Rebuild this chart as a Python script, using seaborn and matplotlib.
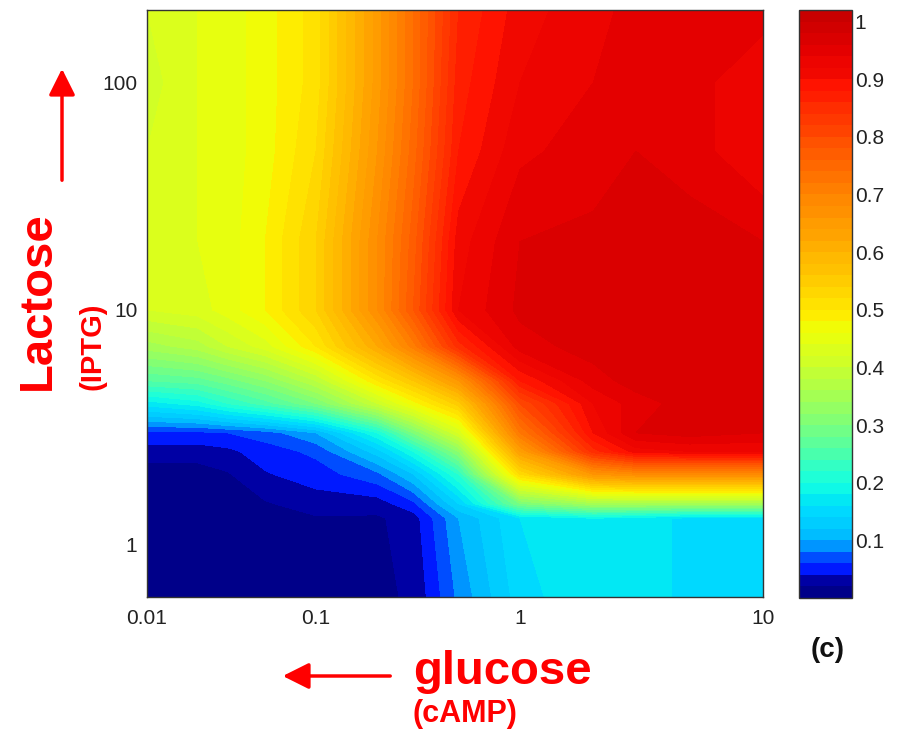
import numpy as np
import matplotlib
import matplotlib.pyplot as plt
import seaborn as sns
from matplotlib.patches import FancyArrowPatch

glucose = [0.01, 0.02, 0.03, 0.05, 0.1, 0.2, 0.3, 0.5, 1, 2, 3, 5, 10]
iptg = [0.6, 1.3, 1.5, 2, 2.5, 3, 4, 5, 7, 10, 20, 50, 100, 210]

# una fila por concentracion de IPTG (de abajo hacia arriba)
expression = [
    [0.005, 0.005, 0.005, 0.005, 0.01, 0.017, 0.022, 0.085, 0.15, 0.18, 0.17, 0.155, 0.155],
    [0.005, 0.005, 0.006, 0.01, 0.018, 0.017, 0.03, 0.1, 0.16, 0.18, 0.17, 0.155, 0.155],
    [0.005, 0.005, 0.008, 0.018, 0.03, 0.03, 0.055, 0.14, 0.3, 0.35, 0.35, 0.35, 0.35],
    [0.01, 0.01, 0.018, 0.038, 0.05, 0.075, 0.12, 0.22, 0.52, 0.66, 0.68, 0.68, 0.68],
    [0.03, 0.03, 0.035, 0.05, 0.065, 0.13, 0.2, 0.32, 0.64, 0.85, 0.91, 0.92, 0.92],
    [0.055, 0.055, 0.06, 0.07, 0.1, 0.2, 0.3, 0.42, 0.72, 0.9, 0.96, 0.97, 0.96],
    [0.17, 0.19, 0.22, 0.25, 0.3, 0.4, 0.47, 0.55, 0.8, 0.92, 0.95, 0.97, 0.97],
    [0.26, 0.27, 0.29, 0.32, 0.38, 0.5, 0.56, 0.66, 0.88, 0.95, 0.97, 0.97, 0.97],
    [0.35, 0.37, 0.4, 0.43, 0.5, 0.62, 0.71, 0.85, 0.95, 0.97, 0.97, 0.97, 0.97],
    [0.42, 0.43, 0.45, 0.48, 0.54, 0.68, 0.78, 0.92, 0.965, 0.97, 0.97, 0.97, 0.96],
    [0.43, 0.44, 0.45, 0.48, 0.54, 0.68, 0.77, 0.91, 0.96, 0.965, 0.97, 0.97, 0.96],
    [0.42, 0.44, 0.45, 0.47, 0.52, 0.66, 0.75, 0.88, 0.935, 0.95, 0.96, 0.95, 0.92],
    [0.41, 0.44, 0.45, 0.47, 0.51, 0.65, 0.74, 0.87, 0.92, 0.94, 0.95, 0.95, 0.92],
    [0.42, 0.44, 0.45, 0.47, 0.51, 0.65, 0.74, 0.86, 0.91, 0.935, 0.945, 0.95, 0.95],
]

x_ticks = [0.01, 0.1, 1, 10]
x_labels = ['0.01', '0.1', '1', '10']
y_ticks = [1, 10, 100]
y_labels = ['1', '10', '100']
cbar_ticks = [0.1, 0.2, 0.3, 0.4, 0.5, 0.6, 0.7, 0.8, 0.9, 1.0]
cbar_labels = ['0.1', '0.2', '0.3', '0.4', '0.5', '0.6', '0.7', '0.8', '0.9', '1']

sns.set_theme(style='white')
plt.rcParams['font.family'] = ['Liberation Sans', 'DejaVu Sans']

# niveles de contorno y colores tipo jet (escala no lineal como en el original)
levels = np.arange(0, 1.0201, 0.02)
jet = matplotlib.colormaps['jet']
v_anchor = [0, 0.01, 0.03, 0.05, 0.07, 0.09, 0.11, 0.2, 0.3, 0.4, 0.48, 0.5, 0.6, 0.7, 0.8, 0.9, 1.0, 1.02]
f_anchor = [0.0, 0.01, 0.035, 0.15, 0.2, 0.27, 0.31, 0.375, 0.5, 0.595, 0.65, 0.665, 0.72, 0.77, 0.83, 0.895, 0.93, 0.94]
centers = (levels[:-1] + levels[1:]) / 2
band_colors = [jet(f) for f in np.interp(centers, v_anchor, f_anchor)]

# escalas por tramos (eje en log10, separacion de decadas como en la figura)
xk = [-2, -1, 0, 1]
xp = [0, 0.2744, 0.6055, 1]
yk = [np.log10(0.6), 0, 1, 2, np.log10(210)]
yp = [0, 0.0886, 0.489, 0.876, 1]

def fx(t):
    return np.interp(t, xk, xp)

def fx_inv(p):
    return np.interp(p, xp, xk)

def fy(t):
    return np.interp(t, yk, yp)

def fy_inv(p):
    return np.interp(p, yp, yk)

fig = plt.figure(figsize=(9.03, 7.32), dpi=100)
ax = fig.add_axes([147 / 903, 1 - 597 / 732, 616 / 903, 587 / 732])
cax = fig.add_axes([799 / 903, 1 - 598 / 732, 53 / 903, 588 / 732])

X, Y = np.meshgrid(np.log10(glucose), np.log10(iptg))
cs = ax.contourf(X, Y, np.array(expression), levels=levels, colors=band_colors)

ax.set_xscale('function', functions=(fx, fx_inv))
ax.set_yscale('function', functions=(fy, fy_inv))
ax.set_xlim(np.log10(glucose[0]), np.log10(glucose[-1]))
ax.set_ylim(np.log10(iptg[0]), np.log10(iptg[-1]))
ax.set_xticks(np.log10(x_ticks), labels=x_labels)
ax.set_yticks(np.log10(y_ticks), labels=y_labels)
ax.minorticks_off()
ax.tick_params(length=0, labelsize=15, labelcolor='#222222')
ax.tick_params(axis='x', pad=9)
ax.tick_params(axis='y', pad=7)
for s in ax.spines.values():
    s.set_color('#333333')
    s.set_linewidth(1)

cb = fig.colorbar(cs, cax=cax)
cb.set_ticks(cbar_ticks, labels=cbar_labels)
cax.yaxis.set_ticks_position('both')
cax.tick_params(direction='in', left=True, right=True, length=5, width=1.2,
                color='#222222', labelsize=15, labelcolor='#222222',
                labelleft=False, labelright=True, pad=2)
cb.outline.set_edgecolor('#333333')
cb.outline.set_linewidth(1)

# etiquetas en rojo y flechas
fig.text(38 / 903, 1 - 390 / 732, 'Lactose', rotation=90, color='red', fontsize=34,
         fontweight='bold', ha='center', va='bottom')
fig.text(93 / 903, 1 - 390 / 732, '(IPTG)', rotation=90, color='red', fontsize=21,
         fontweight='bold', ha='center', va='bottom')
fig.text(413 / 903, 1 - 684 / 732, 'glucose', color='red', fontsize=34,
         fontweight='bold', ha='left', va='baseline')
fig.text(413 / 903, 1 - 722 / 732, '(cAMP)', color='red', fontsize=22,
         fontweight='bold', ha='left', va='baseline')
fig.text(828 / 903, 1 - 650 / 732, '(c)', color='#111111', fontsize=20,
         fontweight='bold', ha='center', va='center')

fig.add_artist(FancyArrowPatch((62 / 903, 1 - 183 / 732), (62 / 903, 1 - 66 / 732),
                               transform=fig.transFigure, arrowstyle='-|>,head_length=8,head_width=4',
                               color='red', lw=2.5, mutation_scale=2))
fig.add_artist(FancyArrowPatch((393 / 903, 1 - 676 / 732), (280 / 903, 1 - 676 / 732),
                               transform=fig.transFigure, arrowstyle='-|>,head_length=8,head_width=4',
                               color='red', lw=2.5, mutation_scale=2))

fig.savefig('out.png', dpi=100)
